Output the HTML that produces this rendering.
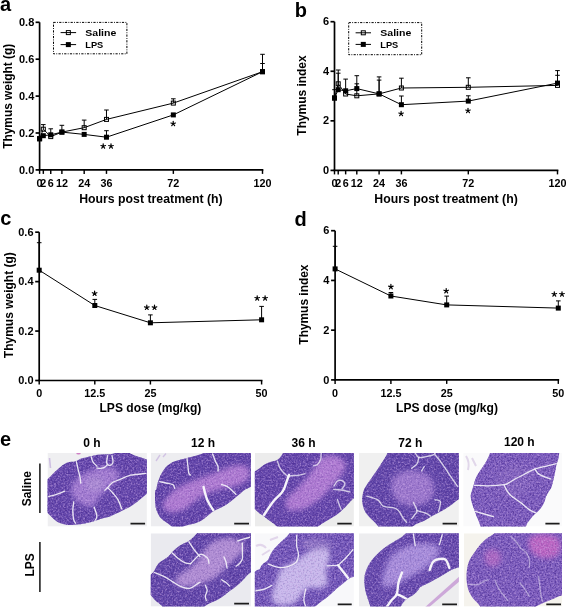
<!DOCTYPE html>
<html><head><meta charset="utf-8"><style>
html,body{margin:0;padding:0;background:#fff;}
svg{display:block;filter:blur(0.3px);}
</style></head><body>
<svg width="567" height="609" viewBox="0 0 567 609" font-family="Liberation Sans, sans-serif" font-weight="bold">
<rect width="567" height="609" fill="#fff"/>
<text x="0.00" y="11.40" font-size="20" text-anchor="start" >a</text>
<text x="294.80" y="16.60" font-size="20" text-anchor="start" >b</text>
<text x="0.20" y="225.40" font-size="20" text-anchor="start" >c</text>
<text x="294.60" y="226.00" font-size="20" text-anchor="start" >d</text>
<text x="0.00" y="445.50" font-size="20" text-anchor="start" >e</text>
<line x1="39.60" y1="22.30" x2="39.60" y2="169.90" stroke="#000" stroke-width="1.7"/>
<line x1="35.60" y1="169.90" x2="39.60" y2="169.90" stroke="#000" stroke-width="1.7"/>
<text transform="translate(34.30,173.50) scale(1.1,1)" font-size="10" text-anchor="end" >0.0</text>
<line x1="35.60" y1="133.00" x2="39.60" y2="133.00" stroke="#000" stroke-width="1.7"/>
<text transform="translate(34.30,136.60) scale(1.1,1)" font-size="10" text-anchor="end" >0.2</text>
<line x1="35.60" y1="96.10" x2="39.60" y2="96.10" stroke="#000" stroke-width="1.7"/>
<text transform="translate(34.30,99.70) scale(1.1,1)" font-size="10" text-anchor="end" >0.4</text>
<line x1="35.60" y1="59.20" x2="39.60" y2="59.20" stroke="#000" stroke-width="1.7"/>
<text transform="translate(34.30,62.80) scale(1.1,1)" font-size="10" text-anchor="end" >0.6</text>
<line x1="35.60" y1="22.30" x2="39.60" y2="22.30" stroke="#000" stroke-width="1.7"/>
<text transform="translate(34.30,25.90) scale(1.1,1)" font-size="10" text-anchor="end" >0.8</text>
<line x1="38.75" y1="169.90" x2="263.35" y2="169.90" stroke="#000" stroke-width="1.7"/>
<line x1="39.60" y1="169.90" x2="39.60" y2="173.90" stroke="#000" stroke-width="1.4449999999999998"/>
<text transform="translate(39.60,186.60) scale(1.08,1)" font-size="10" text-anchor="middle" >0</text>
<line x1="43.32" y1="169.90" x2="43.32" y2="173.90" stroke="#000" stroke-width="1.4449999999999998"/>
<text transform="translate(43.32,186.60) scale(1.08,1)" font-size="10" text-anchor="middle" >2</text>
<line x1="50.75" y1="169.90" x2="50.75" y2="173.90" stroke="#000" stroke-width="1.4449999999999998"/>
<text transform="translate(50.75,186.60) scale(1.08,1)" font-size="10" text-anchor="middle" >6</text>
<line x1="61.89" y1="169.90" x2="61.89" y2="173.90" stroke="#000" stroke-width="1.4449999999999998"/>
<text transform="translate(61.89,186.60) scale(1.08,1)" font-size="10" text-anchor="middle" >12</text>
<line x1="84.18" y1="169.90" x2="84.18" y2="173.90" stroke="#000" stroke-width="1.4449999999999998"/>
<text transform="translate(84.18,186.60) scale(1.08,1)" font-size="10" text-anchor="middle" >24</text>
<line x1="106.47" y1="169.90" x2="106.47" y2="173.90" stroke="#000" stroke-width="1.4449999999999998"/>
<text transform="translate(106.47,186.60) scale(1.08,1)" font-size="10" text-anchor="middle" >36</text>
<line x1="173.34" y1="169.90" x2="173.34" y2="173.90" stroke="#000" stroke-width="1.4449999999999998"/>
<text transform="translate(173.34,186.60) scale(1.08,1)" font-size="10" text-anchor="middle" >72</text>
<line x1="262.50" y1="169.90" x2="262.50" y2="173.90" stroke="#000" stroke-width="1.4449999999999998"/>
<text transform="translate(262.50,186.60) scale(1.08,1)" font-size="10" text-anchor="middle" >120</text>
<text transform="translate(11.6,96.3) rotate(-90)" font-size="12.4" text-anchor="middle" textLength="105" lengthAdjust="spacingAndGlyphs">Thymus weight (g)</text>
<text x="150.90" y="202.60" font-size="12.4" text-anchor="middle" textLength="143.5" lengthAdjust="spacingAndGlyphs" >Hours post treatment (h)</text>
<rect x="53.5" y="22.4" width="73.4" height="31.4" fill="none" stroke="#000" stroke-width="1" stroke-dasharray="2.2,1.3,0.9,1.3"/>
<line x1="60.60" y1="32.60" x2="76.10" y2="32.60" stroke="#000" stroke-width="1"/>
<rect x="66.35" y="30.60" width="4.0" height="4.0" fill="none" stroke="#000" stroke-width="1"/>
<line x1="60.60" y1="44.60" x2="76.10" y2="44.60" stroke="#000" stroke-width="1"/>
<rect x="65.85" y="42.10" width="5.0" height="5.0" fill="#000"/>
<text x="85.30" y="35.70" font-size="9.5" text-anchor="start" textLength="31.0" lengthAdjust="spacingAndGlyphs" >Saline</text>
<text x="85.30" y="48.20" font-size="9.6" text-anchor="start" textLength="18.0" lengthAdjust="spacingAndGlyphs" >LPS</text>
<line x1="43.32" y1="129.20" x2="43.32" y2="124.60" stroke="#000" stroke-width="1.0"/>
<line x1="41.02" y1="124.60" x2="45.62" y2="124.60" stroke="#000" stroke-width="1.0"/>
<line x1="50.75" y1="136.60" x2="50.75" y2="128.80" stroke="#000" stroke-width="1.0"/>
<line x1="48.45" y1="128.80" x2="53.05" y2="128.80" stroke="#000" stroke-width="1.0"/>
<line x1="61.89" y1="132.10" x2="61.89" y2="125.30" stroke="#000" stroke-width="1.0"/>
<line x1="59.59" y1="125.30" x2="64.19" y2="125.30" stroke="#000" stroke-width="1.0"/>
<line x1="84.18" y1="127.70" x2="84.18" y2="120.10" stroke="#000" stroke-width="1.0"/>
<line x1="81.88" y1="120.10" x2="86.48" y2="120.10" stroke="#000" stroke-width="1.0"/>
<line x1="106.47" y1="119.40" x2="106.47" y2="110.00" stroke="#000" stroke-width="1.0"/>
<line x1="104.17" y1="110.00" x2="108.77" y2="110.00" stroke="#000" stroke-width="1.0"/>
<line x1="173.34" y1="103.10" x2="173.34" y2="98.80" stroke="#000" stroke-width="1.0"/>
<line x1="171.04" y1="98.80" x2="175.64" y2="98.80" stroke="#000" stroke-width="1.0"/>
<line x1="262.50" y1="71.70" x2="262.50" y2="54.30" stroke="#000" stroke-width="1.0"/>
<line x1="260.20" y1="54.30" x2="264.80" y2="54.30" stroke="#000" stroke-width="1.0"/>
<line x1="106.47" y1="137.20" x2="106.47" y2="130.70" stroke="#000" stroke-width="1.0"/>
<line x1="104.17" y1="130.70" x2="108.77" y2="130.70" stroke="#000" stroke-width="1.0"/>
<line x1="262.50" y1="71.70" x2="262.50" y2="63.50" stroke="#000" stroke-width="1.0"/>
<line x1="260.20" y1="63.50" x2="264.80" y2="63.50" stroke="#000" stroke-width="1.0"/>
<polyline points="39.60,138.60 43.32,129.20 50.75,136.60 61.89,132.10 84.18,127.70 106.47,119.40 173.34,103.10 262.50,71.70" fill="none" stroke="#000" stroke-width="1.0"/>
<polyline points="39.60,138.90 43.32,135.70 50.75,134.80 61.89,132.10 84.18,134.40 106.47,137.20 173.34,114.90 262.50,71.70" fill="none" stroke="#000" stroke-width="1.0"/>
<rect x="37.60" y="136.60" width="4.0" height="4.0" fill="none" stroke="#000" stroke-width="1"/>
<rect x="41.32" y="127.20" width="4.0" height="4.0" fill="none" stroke="#000" stroke-width="1"/>
<rect x="48.75" y="134.60" width="4.0" height="4.0" fill="none" stroke="#000" stroke-width="1"/>
<rect x="59.89" y="130.10" width="4.0" height="4.0" fill="none" stroke="#000" stroke-width="1"/>
<rect x="82.18" y="125.70" width="4.0" height="4.0" fill="none" stroke="#000" stroke-width="1"/>
<rect x="104.47" y="117.40" width="4.0" height="4.0" fill="none" stroke="#000" stroke-width="1"/>
<rect x="171.34" y="101.10" width="4.0" height="4.0" fill="none" stroke="#000" stroke-width="1"/>
<rect x="260.50" y="69.70" width="4.0" height="4.0" fill="none" stroke="#000" stroke-width="1"/>
<rect x="37.10" y="136.40" width="5.0" height="5.0" fill="#000"/>
<rect x="40.82" y="133.20" width="5.0" height="5.0" fill="#000"/>
<rect x="48.25" y="132.30" width="5.0" height="5.0" fill="#000"/>
<rect x="59.39" y="129.60" width="5.0" height="5.0" fill="#000"/>
<rect x="81.68" y="131.90" width="5.0" height="5.0" fill="#000"/>
<rect x="103.97" y="134.70" width="5.0" height="5.0" fill="#000"/>
<rect x="170.84" y="112.40" width="5.0" height="5.0" fill="#000"/>
<rect x="260.00" y="69.20" width="5.0" height="5.0" fill="#000"/>
<path d="M103.20,146.25 L103.20,143.85 M103.20,146.25 L105.48,145.51 M103.20,146.25 L104.61,148.19 M103.20,146.25 L101.79,148.19 M103.20,146.25 L100.92,145.51 " stroke="#000" stroke-width="1.2" stroke-linecap="round" fill="none"/>
<circle cx="103.20" cy="146.25" r="0.9" fill="#000"/>
<path d="M111.00,146.25 L111.00,143.85 M111.00,146.25 L113.28,145.51 M111.00,146.25 L112.41,148.19 M111.00,146.25 L109.59,148.19 M111.00,146.25 L108.72,145.51 " stroke="#000" stroke-width="1.2" stroke-linecap="round" fill="none"/>
<circle cx="111.00" cy="146.25" r="0.9" fill="#000"/>
<path d="M173.20,123.75 L173.20,121.35 M173.20,123.75 L175.48,123.01 M173.20,123.75 L174.61,125.69 M173.20,123.75 L171.79,125.69 M173.20,123.75 L170.92,123.01 " stroke="#000" stroke-width="1.2" stroke-linecap="round" fill="none"/>
<circle cx="173.20" cy="123.75" r="0.9" fill="#000"/>
<line x1="334.50" y1="21.70" x2="334.50" y2="170.40" stroke="#000" stroke-width="1.7"/>
<line x1="330.50" y1="170.40" x2="334.50" y2="170.40" stroke="#000" stroke-width="1.7"/>
<text transform="translate(329.00,174.00) scale(1.1,1)" font-size="10" text-anchor="end" >0</text>
<line x1="330.50" y1="120.83" x2="334.50" y2="120.83" stroke="#000" stroke-width="1.7"/>
<text transform="translate(329.00,124.43) scale(1.1,1)" font-size="10" text-anchor="end" >2</text>
<line x1="330.50" y1="71.27" x2="334.50" y2="71.27" stroke="#000" stroke-width="1.7"/>
<text transform="translate(329.00,74.87) scale(1.1,1)" font-size="10" text-anchor="end" >4</text>
<line x1="330.50" y1="21.70" x2="334.50" y2="21.70" stroke="#000" stroke-width="1.7"/>
<text transform="translate(329.00,25.30) scale(1.1,1)" font-size="10" text-anchor="end" >6</text>
<line x1="333.65" y1="170.40" x2="558.35" y2="170.40" stroke="#000" stroke-width="1.7"/>
<line x1="334.50" y1="170.40" x2="334.50" y2="174.40" stroke="#000" stroke-width="1.4449999999999998"/>
<text transform="translate(334.50,187.20) scale(1.08,1)" font-size="10" text-anchor="middle" >0</text>
<line x1="338.22" y1="170.40" x2="338.22" y2="174.40" stroke="#000" stroke-width="1.4449999999999998"/>
<text transform="translate(338.22,187.20) scale(1.08,1)" font-size="10" text-anchor="middle" >2</text>
<line x1="345.65" y1="170.40" x2="345.65" y2="174.40" stroke="#000" stroke-width="1.4449999999999998"/>
<text transform="translate(345.65,187.20) scale(1.08,1)" font-size="10" text-anchor="middle" >6</text>
<line x1="356.80" y1="170.40" x2="356.80" y2="174.40" stroke="#000" stroke-width="1.4449999999999998"/>
<text transform="translate(356.80,187.20) scale(1.08,1)" font-size="10" text-anchor="middle" >12</text>
<line x1="379.10" y1="170.40" x2="379.10" y2="174.40" stroke="#000" stroke-width="1.4449999999999998"/>
<text transform="translate(379.10,187.20) scale(1.08,1)" font-size="10" text-anchor="middle" >24</text>
<line x1="401.40" y1="170.40" x2="401.40" y2="174.40" stroke="#000" stroke-width="1.4449999999999998"/>
<text transform="translate(401.40,187.20) scale(1.08,1)" font-size="10" text-anchor="middle" >36</text>
<line x1="468.30" y1="170.40" x2="468.30" y2="174.40" stroke="#000" stroke-width="1.4449999999999998"/>
<text transform="translate(468.30,187.20) scale(1.08,1)" font-size="10" text-anchor="middle" >72</text>
<line x1="557.50" y1="170.40" x2="557.50" y2="174.40" stroke="#000" stroke-width="1.4449999999999998"/>
<text transform="translate(557.50,187.20) scale(1.08,1)" font-size="10" text-anchor="middle" >120</text>
<text transform="translate(306.4,95.5) rotate(-90)" font-size="12.4" text-anchor="middle" textLength="80.3" lengthAdjust="spacingAndGlyphs">Thymus index</text>
<text x="446.00" y="203.20" font-size="12.4" text-anchor="middle" textLength="143.5" lengthAdjust="spacingAndGlyphs" >Hours post treatment (h)</text>
<rect x="348.7" y="22.6" width="73.0" height="32.1" fill="none" stroke="#000" stroke-width="1" stroke-dasharray="2.2,1.3,0.9,1.3"/>
<line x1="355.60" y1="32.80" x2="371.00" y2="32.80" stroke="#000" stroke-width="1"/>
<rect x="361.30" y="30.80" width="4.0" height="4.0" fill="none" stroke="#000" stroke-width="1"/>
<line x1="355.60" y1="44.40" x2="371.00" y2="44.40" stroke="#000" stroke-width="1"/>
<rect x="360.80" y="41.90" width="5.0" height="5.0" fill="#000"/>
<text x="380.30" y="35.90" font-size="9.5" text-anchor="start" textLength="31.0" lengthAdjust="spacingAndGlyphs" >Saline</text>
<text x="380.30" y="48.00" font-size="9.6" text-anchor="start" textLength="18.0" lengthAdjust="spacingAndGlyphs" >LPS</text>
<line x1="334.50" y1="98.00" x2="334.50" y2="89.70" stroke="#000" stroke-width="1.0"/>
<line x1="332.20" y1="89.70" x2="336.80" y2="89.70" stroke="#000" stroke-width="1.0"/>
<line x1="338.22" y1="83.80" x2="338.22" y2="70.00" stroke="#000" stroke-width="1.0"/>
<line x1="335.92" y1="70.00" x2="340.52" y2="70.00" stroke="#000" stroke-width="1.0"/>
<line x1="345.65" y1="94.00" x2="345.65" y2="79.10" stroke="#000" stroke-width="1.0"/>
<line x1="343.35" y1="79.10" x2="347.95" y2="79.10" stroke="#000" stroke-width="1.0"/>
<line x1="356.80" y1="95.80" x2="356.80" y2="83.80" stroke="#000" stroke-width="1.0"/>
<line x1="354.50" y1="83.80" x2="359.10" y2="83.80" stroke="#000" stroke-width="1.0"/>
<line x1="379.10" y1="93.90" x2="379.10" y2="80.10" stroke="#000" stroke-width="1.0"/>
<line x1="376.80" y1="80.10" x2="381.40" y2="80.10" stroke="#000" stroke-width="1.0"/>
<line x1="401.40" y1="88.00" x2="401.40" y2="78.20" stroke="#000" stroke-width="1.0"/>
<line x1="399.10" y1="78.20" x2="403.70" y2="78.20" stroke="#000" stroke-width="1.0"/>
<line x1="468.30" y1="87.30" x2="468.30" y2="77.80" stroke="#000" stroke-width="1.0"/>
<line x1="466.00" y1="77.80" x2="470.60" y2="77.80" stroke="#000" stroke-width="1.0"/>
<line x1="557.50" y1="85.40" x2="557.50" y2="70.60" stroke="#000" stroke-width="1.0"/>
<line x1="555.20" y1="70.60" x2="559.80" y2="70.60" stroke="#000" stroke-width="1.0"/>
<line x1="338.22" y1="89.70" x2="338.22" y2="73.20" stroke="#000" stroke-width="1.0"/>
<line x1="335.92" y1="73.20" x2="340.52" y2="73.20" stroke="#000" stroke-width="1.0"/>
<line x1="356.80" y1="88.60" x2="356.80" y2="75.70" stroke="#000" stroke-width="1.0"/>
<line x1="354.50" y1="75.70" x2="359.10" y2="75.70" stroke="#000" stroke-width="1.0"/>
<line x1="379.10" y1="93.90" x2="379.10" y2="76.90" stroke="#000" stroke-width="1.0"/>
<line x1="376.80" y1="76.90" x2="381.40" y2="76.90" stroke="#000" stroke-width="1.0"/>
<line x1="401.40" y1="104.70" x2="401.40" y2="96.00" stroke="#000" stroke-width="1.0"/>
<line x1="399.10" y1="96.00" x2="403.70" y2="96.00" stroke="#000" stroke-width="1.0"/>
<line x1="468.30" y1="101.10" x2="468.30" y2="95.80" stroke="#000" stroke-width="1.0"/>
<line x1="466.00" y1="95.80" x2="470.60" y2="95.80" stroke="#000" stroke-width="1.0"/>
<line x1="557.50" y1="83.10" x2="557.50" y2="75.30" stroke="#000" stroke-width="1.0"/>
<line x1="555.20" y1="75.30" x2="559.80" y2="75.30" stroke="#000" stroke-width="1.0"/>
<polyline points="334.50,98.00 338.22,83.80 345.65,94.00 356.80,95.80 379.10,93.90 401.40,88.00 468.30,87.30 557.50,85.40" fill="none" stroke="#000" stroke-width="1.0"/>
<polyline points="334.50,98.00 338.22,89.70 345.65,90.80 356.80,88.60 379.10,93.90 401.40,104.70 468.30,101.10 557.50,83.10" fill="none" stroke="#000" stroke-width="1.0"/>
<rect x="332.50" y="96.00" width="4.0" height="4.0" fill="none" stroke="#000" stroke-width="1"/>
<rect x="336.22" y="81.80" width="4.0" height="4.0" fill="none" stroke="#000" stroke-width="1"/>
<rect x="343.65" y="92.00" width="4.0" height="4.0" fill="none" stroke="#000" stroke-width="1"/>
<rect x="354.80" y="93.80" width="4.0" height="4.0" fill="none" stroke="#000" stroke-width="1"/>
<rect x="377.10" y="91.90" width="4.0" height="4.0" fill="none" stroke="#000" stroke-width="1"/>
<rect x="399.40" y="86.00" width="4.0" height="4.0" fill="none" stroke="#000" stroke-width="1"/>
<rect x="466.30" y="85.30" width="4.0" height="4.0" fill="none" stroke="#000" stroke-width="1"/>
<rect x="555.50" y="83.40" width="4.0" height="4.0" fill="none" stroke="#000" stroke-width="1"/>
<rect x="332.00" y="95.50" width="5.0" height="5.0" fill="#000"/>
<rect x="335.72" y="87.20" width="5.0" height="5.0" fill="#000"/>
<rect x="343.15" y="88.30" width="5.0" height="5.0" fill="#000"/>
<rect x="354.30" y="86.10" width="5.0" height="5.0" fill="#000"/>
<rect x="376.60" y="91.40" width="5.0" height="5.0" fill="#000"/>
<rect x="398.90" y="102.20" width="5.0" height="5.0" fill="#000"/>
<rect x="465.80" y="98.60" width="5.0" height="5.0" fill="#000"/>
<rect x="555.00" y="80.60" width="5.0" height="5.0" fill="#000"/>
<path d="M401.10,113.75 L401.10,111.35 M401.10,113.75 L403.38,113.01 M401.10,113.75 L402.51,115.69 M401.10,113.75 L399.69,115.69 M401.10,113.75 L398.82,113.01 " stroke="#000" stroke-width="1.2" stroke-linecap="round" fill="none"/>
<circle cx="401.10" cy="113.75" r="0.9" fill="#000"/>
<path d="M468.00,110.75 L468.00,108.35 M468.00,110.75 L470.28,110.01 M468.00,110.75 L469.41,112.69 M468.00,110.75 L466.59,112.69 M468.00,110.75 L465.72,110.01 " stroke="#000" stroke-width="1.2" stroke-linecap="round" fill="none"/>
<circle cx="468.00" cy="110.75" r="0.9" fill="#000"/>
<line x1="39.20" y1="232.18" x2="39.20" y2="380.50" stroke="#000" stroke-width="1.7"/>
<line x1="35.20" y1="380.50" x2="39.20" y2="380.50" stroke="#000" stroke-width="1.7"/>
<text transform="translate(33.50,384.10) scale(1.1,1)" font-size="10" text-anchor="end" >0.0</text>
<line x1="35.20" y1="331.06" x2="39.20" y2="331.06" stroke="#000" stroke-width="1.7"/>
<text transform="translate(33.50,334.66) scale(1.1,1)" font-size="10" text-anchor="end" >0.2</text>
<line x1="35.20" y1="281.62" x2="39.20" y2="281.62" stroke="#000" stroke-width="1.7"/>
<text transform="translate(33.50,285.22) scale(1.1,1)" font-size="10" text-anchor="end" >0.4</text>
<line x1="35.20" y1="232.18" x2="39.20" y2="232.18" stroke="#000" stroke-width="1.7"/>
<text transform="translate(33.50,235.78) scale(1.1,1)" font-size="10" text-anchor="end" >0.6</text>
<line x1="38.35" y1="380.50" x2="262.45" y2="380.50" stroke="#000" stroke-width="1.7"/>
<line x1="39.20" y1="380.50" x2="39.20" y2="384.50" stroke="#000" stroke-width="1.4449999999999998"/>
<text transform="translate(39.20,397.00) scale(1.08,1)" font-size="10" text-anchor="middle" >0</text>
<line x1="94.80" y1="380.50" x2="94.80" y2="384.50" stroke="#000" stroke-width="1.4449999999999998"/>
<text transform="translate(94.80,397.00) scale(1.08,1)" font-size="10" text-anchor="middle" >12.5</text>
<line x1="150.40" y1="380.50" x2="150.40" y2="384.50" stroke="#000" stroke-width="1.4449999999999998"/>
<text transform="translate(150.40,397.00) scale(1.08,1)" font-size="10" text-anchor="middle" >25</text>
<line x1="261.60" y1="380.50" x2="261.60" y2="384.50" stroke="#000" stroke-width="1.4449999999999998"/>
<text transform="translate(261.60,397.00) scale(1.08,1)" font-size="10" text-anchor="middle" >50</text>
<text transform="translate(13.0,305.2) rotate(-90)" font-size="12.4" text-anchor="middle" textLength="105.9" lengthAdjust="spacingAndGlyphs">Thymus weight (g)</text>
<text x="150.40" y="412.40" font-size="12.4" text-anchor="middle" textLength="101.8" lengthAdjust="spacingAndGlyphs" >LPS dose (mg/kg)</text>
<line x1="39.20" y1="270.20" x2="39.20" y2="242.70" stroke="#000" stroke-width="1.0"/>
<line x1="36.90" y1="242.70" x2="41.50" y2="242.70" stroke="#000" stroke-width="1.0"/>
<line x1="94.80" y1="305.50" x2="94.80" y2="299.40" stroke="#000" stroke-width="1.0"/>
<line x1="92.50" y1="299.40" x2="97.10" y2="299.40" stroke="#000" stroke-width="1.0"/>
<line x1="150.40" y1="322.80" x2="150.40" y2="314.90" stroke="#000" stroke-width="1.0"/>
<line x1="148.10" y1="314.90" x2="152.70" y2="314.90" stroke="#000" stroke-width="1.0"/>
<line x1="261.60" y1="319.80" x2="261.60" y2="306.40" stroke="#000" stroke-width="1.0"/>
<line x1="259.30" y1="306.40" x2="263.90" y2="306.40" stroke="#000" stroke-width="1.0"/>
<polyline points="39.20,270.20 94.80,305.50 150.40,322.80 261.60,319.80" fill="none" stroke="#000" stroke-width="1.0"/>
<rect x="36.70" y="267.70" width="5.0" height="5.0" fill="#000"/>
<rect x="92.30" y="303.00" width="5.0" height="5.0" fill="#000"/>
<rect x="147.90" y="320.30" width="5.0" height="5.0" fill="#000"/>
<rect x="259.10" y="317.30" width="5.0" height="5.0" fill="#000"/>
<path d="M94.60,293.45 L94.60,291.05 M94.60,293.45 L96.88,292.71 M94.60,293.45 L96.01,295.39 M94.60,293.45 L93.19,295.39 M94.60,293.45 L92.32,292.71 " stroke="#000" stroke-width="1.2" stroke-linecap="round" fill="none"/>
<circle cx="94.60" cy="293.45" r="0.9" fill="#000"/>
<path d="M146.80,307.55 L146.80,305.15 M146.80,307.55 L149.08,306.81 M146.80,307.55 L148.21,309.49 M146.80,307.55 L145.39,309.49 M146.80,307.55 L144.52,306.81 " stroke="#000" stroke-width="1.2" stroke-linecap="round" fill="none"/>
<circle cx="146.80" cy="307.55" r="0.9" fill="#000"/>
<path d="M154.50,307.55 L154.50,305.15 M154.50,307.55 L156.78,306.81 M154.50,307.55 L155.91,309.49 M154.50,307.55 L153.09,309.49 M154.50,307.55 L152.22,306.81 " stroke="#000" stroke-width="1.2" stroke-linecap="round" fill="none"/>
<circle cx="154.50" cy="307.55" r="0.9" fill="#000"/>
<path d="M257.20,298.25 L257.20,295.85 M257.20,298.25 L259.48,297.51 M257.20,298.25 L258.61,300.19 M257.20,298.25 L255.79,300.19 M257.20,298.25 L254.92,297.51 " stroke="#000" stroke-width="1.2" stroke-linecap="round" fill="none"/>
<circle cx="257.20" cy="298.25" r="0.9" fill="#000"/>
<path d="M265.10,298.25 L265.10,295.85 M265.10,298.25 L267.38,297.51 M265.10,298.25 L266.51,300.19 M265.10,298.25 L263.69,300.19 M265.10,298.25 L262.82,297.51 " stroke="#000" stroke-width="1.2" stroke-linecap="round" fill="none"/>
<circle cx="265.10" cy="298.25" r="0.9" fill="#000"/>
<line x1="335.10" y1="230.70" x2="335.10" y2="379.90" stroke="#000" stroke-width="1.7"/>
<line x1="331.10" y1="379.90" x2="335.10" y2="379.90" stroke="#000" stroke-width="1.7"/>
<text transform="translate(329.30,383.50) scale(1.1,1)" font-size="10" text-anchor="end" >0</text>
<line x1="331.10" y1="330.17" x2="335.10" y2="330.17" stroke="#000" stroke-width="1.7"/>
<text transform="translate(329.30,333.77) scale(1.1,1)" font-size="10" text-anchor="end" >2</text>
<line x1="331.10" y1="280.43" x2="335.10" y2="280.43" stroke="#000" stroke-width="1.7"/>
<text transform="translate(329.30,284.03) scale(1.1,1)" font-size="10" text-anchor="end" >4</text>
<line x1="331.10" y1="230.70" x2="335.10" y2="230.70" stroke="#000" stroke-width="1.7"/>
<text transform="translate(329.30,234.30) scale(1.1,1)" font-size="10" text-anchor="end" >6</text>
<line x1="334.25" y1="379.90" x2="559.15" y2="379.90" stroke="#000" stroke-width="1.7"/>
<line x1="335.10" y1="379.90" x2="335.10" y2="383.90" stroke="#000" stroke-width="1.4449999999999998"/>
<text transform="translate(335.10,396.50) scale(1.08,1)" font-size="10" text-anchor="middle" >0</text>
<line x1="390.90" y1="379.90" x2="390.90" y2="383.90" stroke="#000" stroke-width="1.4449999999999998"/>
<text transform="translate(390.90,396.50) scale(1.08,1)" font-size="10" text-anchor="middle" >12.5</text>
<line x1="446.70" y1="379.90" x2="446.70" y2="383.90" stroke="#000" stroke-width="1.4449999999999998"/>
<text transform="translate(446.70,396.50) scale(1.08,1)" font-size="10" text-anchor="middle" >25</text>
<line x1="558.30" y1="379.90" x2="558.30" y2="383.90" stroke="#000" stroke-width="1.4449999999999998"/>
<text transform="translate(558.30,396.50) scale(1.08,1)" font-size="10" text-anchor="middle" >50</text>
<text transform="translate(308.4,304.6) rotate(-90)" font-size="12.4" text-anchor="middle" textLength="80.1" lengthAdjust="spacingAndGlyphs">Thymus index</text>
<text x="447.00" y="411.60" font-size="12.4" text-anchor="middle" textLength="101.9" lengthAdjust="spacingAndGlyphs" >LPS dose (mg/kg)</text>
<line x1="335.10" y1="268.90" x2="335.10" y2="246.30" stroke="#000" stroke-width="1.0"/>
<line x1="332.80" y1="246.30" x2="337.40" y2="246.30" stroke="#000" stroke-width="1.0"/>
<line x1="390.90" y1="296.00" x2="390.90" y2="292.50" stroke="#000" stroke-width="1.0"/>
<line x1="388.60" y1="292.50" x2="393.20" y2="292.50" stroke="#000" stroke-width="1.0"/>
<line x1="446.70" y1="304.90" x2="446.70" y2="296.10" stroke="#000" stroke-width="1.0"/>
<line x1="444.40" y1="296.10" x2="449.00" y2="296.10" stroke="#000" stroke-width="1.0"/>
<line x1="558.30" y1="308.10" x2="558.30" y2="300.90" stroke="#000" stroke-width="1.0"/>
<line x1="556.00" y1="300.90" x2="560.60" y2="300.90" stroke="#000" stroke-width="1.0"/>
<polyline points="335.10,268.90 390.90,296.00 446.70,304.90 558.30,308.10" fill="none" stroke="#000" stroke-width="1.0"/>
<rect x="332.60" y="266.40" width="5.0" height="5.0" fill="#000"/>
<rect x="388.40" y="293.50" width="5.0" height="5.0" fill="#000"/>
<rect x="444.20" y="302.40" width="5.0" height="5.0" fill="#000"/>
<rect x="555.80" y="305.60" width="5.0" height="5.0" fill="#000"/>
<path d="M390.90,286.85 L390.90,284.45 M390.90,286.85 L393.18,286.11 M390.90,286.85 L392.31,288.79 M390.90,286.85 L389.49,288.79 M390.90,286.85 L388.62,286.11 " stroke="#000" stroke-width="1.2" stroke-linecap="round" fill="none"/>
<circle cx="390.90" cy="286.85" r="0.9" fill="#000"/>
<path d="M446.20,290.95 L446.20,288.55 M446.20,290.95 L448.48,290.21 M446.20,290.95 L447.61,292.89 M446.20,290.95 L444.79,292.89 M446.20,290.95 L443.92,290.21 " stroke="#000" stroke-width="1.2" stroke-linecap="round" fill="none"/>
<circle cx="446.20" cy="290.95" r="0.9" fill="#000"/>
<path d="M554.30,294.25 L554.30,291.85 M554.30,294.25 L556.58,293.51 M554.30,294.25 L555.71,296.19 M554.30,294.25 L552.89,296.19 M554.30,294.25 L552.02,293.51 " stroke="#000" stroke-width="1.2" stroke-linecap="round" fill="none"/>
<circle cx="554.30" cy="294.25" r="0.9" fill="#000"/>
<path d="M562.00,294.25 L562.00,291.85 M562.00,294.25 L564.28,293.51 M562.00,294.25 L563.41,296.19 M562.00,294.25 L560.59,296.19 M562.00,294.25 L559.72,293.51 " stroke="#000" stroke-width="1.2" stroke-linecap="round" fill="none"/>
<circle cx="562.00" cy="294.25" r="0.9" fill="#000"/>
<text x="92.00" y="446.60" font-size="12" text-anchor="middle" >0 h</text>
<text x="203.00" y="446.60" font-size="12" text-anchor="middle" >12 h</text>
<text x="303.50" y="446.60" font-size="12" text-anchor="middle" >36 h</text>
<text x="410.30" y="446.60" font-size="12" text-anchor="middle" >72 h</text>
<text x="519.30" y="445.70" font-size="12" text-anchor="middle" >120 h</text>
<text transform="translate(30.6,488.7) rotate(-90)" font-size="12" text-anchor="middle">Saline</text>
<text transform="translate(33.6,564.8) rotate(-90)" font-size="12" text-anchor="middle">LPS</text>
<line x1="39.90" y1="463.60" x2="39.90" y2="513.10" stroke="#222" stroke-width="1.6"/>
<line x1="39.90" y1="542.00" x2="39.90" y2="591.90" stroke="#222" stroke-width="1.6"/>
<defs><filter id="bl1" x="-50%" y="-50%" width="200%" height="200%"><feGaussianBlur stdDeviation="2.8"/></filter><filter id="bl0" x="-20%" y="-20%" width="140%" height="140%"><feGaussianBlur stdDeviation="0.4"/></filter><filter id="spk" x="0" y="0" width="100%" height="100%" color-interpolation-filters="sRGB"><feTurbulence type="fractalNoise" baseFrequency="0.6" numOctaves="2" seed="7"/><feColorMatrix type="matrix" values="0 0 0 0 0.28  0 0 0 0 0.16  0 0 0 0 0.56  0 0 0 -3.2 1.75"/></filter><filter id="spl" x="0" y="0" width="100%" height="100%" color-interpolation-filters="sRGB"><feTurbulence type="fractalNoise" baseFrequency="0.55" numOctaves="2" seed="19"/><feColorMatrix type="matrix" values="0 0 0 0 0.84  0 0 0 0 0.70  0 0 0 0 0.93  0 0 0 -3.2 1.7"/></filter></defs>
<clipPath id="tc0"><rect x="47.5" y="453.0" width="99.4" height="73.6"/></clipPath>
<clipPath id="tp0"><path d="M43.50,500.15 Q43.50,491.00 43.50,491.00 Q43.50,491.00 43.50,486.55 Q43.50,482.10 43.50,482.10 Q43.50,482.10 47.00,479.45 Q50.50,476.80 52.25,474.60 Q54.00,472.40 56.65,470.20 Q59.30,468.00 61.95,465.80 Q64.60,463.60 66.80,462.70 Q69.00,461.80 71.25,461.80 Q73.50,461.80 74.80,461.60 Q76.10,461.40 78.30,460.05 Q80.50,458.70 83.15,458.05 Q85.80,457.40 88.45,456.75 Q91.10,456.10 94.05,455.45 Q97.00,454.80 101.40,454.55 Q105.80,454.30 108.90,454.30 Q112.00,454.30 117.75,451.65 Q123.50,449.00 123.50,449.00 Q123.50,449.00 127.90,451.90 Q132.30,454.80 135.35,455.65 Q138.40,456.50 141.05,457.60 Q143.70,458.70 147.30,459.80 Q150.90,460.90 150.90,460.90 Q150.90,460.90 150.90,461.95 Q150.90,463.00 150.90,463.00 Q150.90,463.00 150.90,475.00 Q150.90,487.00 150.90,487.00 Q150.90,487.00 150.90,488.50 Q150.90,490.00 150.90,490.00 Q150.90,490.00 146.45,493.90 Q142.00,497.80 139.35,500.00 Q136.70,502.20 133.60,504.40 Q130.50,506.60 126.55,508.60 Q122.60,510.60 118.60,512.60 Q114.60,514.60 111.10,515.90 Q107.60,517.20 104.05,518.10 Q100.50,519.00 98.75,519.65 Q97.00,520.30 95.35,520.80 Q93.70,521.30 91.95,521.75 Q90.20,522.20 88.00,522.70 Q85.80,523.20 83.15,523.75 Q80.50,524.30 77.40,524.50 Q74.30,524.70 71.65,524.95 Q69.00,525.20 65.05,524.50 Q61.10,523.80 58.00,522.25 Q54.90,520.70 52.70,518.10 Q50.50,515.50 47.00,512.40 Q43.50,509.30 43.50,509.30 Q43.50,509.30 43.50,500.15Z"/></clipPath>
<g clip-path="url(#tc0)">
<rect x="47.5" y="453.0" width="99.4" height="73.6" fill="#efeff1"/>
<ellipse cx="78.5" cy="453.6" rx="2.2" ry="1" fill="#c050b0" opacity="0.7"/>
<path d="M49.5,458 L50.5,468" stroke="#b8a0d8" stroke-width="1.6" opacity="0.6"/>
<path d="M43.50,500.15 Q43.50,491.00 43.50,491.00 Q43.50,491.00 43.50,486.55 Q43.50,482.10 43.50,482.10 Q43.50,482.10 47.00,479.45 Q50.50,476.80 52.25,474.60 Q54.00,472.40 56.65,470.20 Q59.30,468.00 61.95,465.80 Q64.60,463.60 66.80,462.70 Q69.00,461.80 71.25,461.80 Q73.50,461.80 74.80,461.60 Q76.10,461.40 78.30,460.05 Q80.50,458.70 83.15,458.05 Q85.80,457.40 88.45,456.75 Q91.10,456.10 94.05,455.45 Q97.00,454.80 101.40,454.55 Q105.80,454.30 108.90,454.30 Q112.00,454.30 117.75,451.65 Q123.50,449.00 123.50,449.00 Q123.50,449.00 127.90,451.90 Q132.30,454.80 135.35,455.65 Q138.40,456.50 141.05,457.60 Q143.70,458.70 147.30,459.80 Q150.90,460.90 150.90,460.90 Q150.90,460.90 150.90,461.95 Q150.90,463.00 150.90,463.00 Q150.90,463.00 150.90,475.00 Q150.90,487.00 150.90,487.00 Q150.90,487.00 150.90,488.50 Q150.90,490.00 150.90,490.00 Q150.90,490.00 146.45,493.90 Q142.00,497.80 139.35,500.00 Q136.70,502.20 133.60,504.40 Q130.50,506.60 126.55,508.60 Q122.60,510.60 118.60,512.60 Q114.60,514.60 111.10,515.90 Q107.60,517.20 104.05,518.10 Q100.50,519.00 98.75,519.65 Q97.00,520.30 95.35,520.80 Q93.70,521.30 91.95,521.75 Q90.20,522.20 88.00,522.70 Q85.80,523.20 83.15,523.75 Q80.50,524.30 77.40,524.50 Q74.30,524.70 71.65,524.95 Q69.00,525.20 65.05,524.50 Q61.10,523.80 58.00,522.25 Q54.90,520.70 52.70,518.10 Q50.50,515.50 47.00,512.40 Q43.50,509.30 43.50,509.30 Q43.50,509.30 43.50,500.15Z" fill="#664aad" filter="url(#bl0)"/>
<g clip-path="url(#tp0)">
<rect x="47.5" y="453.0" width="99.4" height="73.6" filter="url(#spk)" opacity="0.55"/>
<g filter="url(#bl1)">
<path d="M71.00,491.25 Q70.00,486.00 74.00,481.50 Q78.00,477.00 83.50,473.75 Q89.00,470.50 95.50,468.75 Q102.00,467.00 107.50,467.25 Q113.00,467.50 116.50,469.75 Q120.00,472.00 119.00,476.00 Q118.00,480.00 114.00,483.25 Q110.00,486.50 107.00,488.75 Q104.00,491.00 101.50,494.25 Q99.00,497.50 97.00,501.45 Q95.00,505.40 91.50,506.30 Q88.00,507.20 83.55,505.40 Q79.10,503.60 75.55,500.05 Q72.00,496.50 71.00,491.25Z" fill="#b58ddd" opacity="0.75"/>
<ellipse cx="95" cy="484" rx="9" ry="7" transform="rotate(0 95 484)" fill="#b8a0d8" opacity="0.45"/>
</g>
<rect x="47.5" y="453.0" width="99.4" height="73.6" filter="url(#spk)" opacity="0.22"/>
<rect x="47.5" y="453.0" width="99.4" height="73.6" filter="url(#spl)" opacity="0.45"/>
<path d="M76.40,461.80 C76.70,463.13 77.60,467.27 78.20,469.80 C78.80,472.33 79.57,474.77 80.00,477.00 C80.43,479.23 80.67,482.17 80.80,483.20" fill="none" stroke="#f3f0f8" stroke-width="1.35" stroke-linecap="round" opacity="0.92"/>
<path d="M107.60,455.60 C107.45,456.78 106.42,461.07 106.70,462.70 C106.98,464.33 108.27,465.40 109.30,465.40 C110.33,465.40 112.45,464.33 112.90,462.70 C113.35,461.07 112.15,456.78 112.00,455.60" fill="none" stroke="#f3f0f8" stroke-width="1.35" stroke-linecap="round" opacity="0.92"/>
<path d="M97.00,468.00 C97.58,468.07 99.18,468.55 100.50,468.40 C101.82,468.25 103.87,467.62 104.90,467.10 C105.93,466.58 106.40,465.60 106.70,465.30" fill="none" stroke="#f3f0f8" stroke-width="1.35" stroke-linecap="round" opacity="0.92"/>
<path d="M145.90,473.40 C143.37,473.70 134.72,474.32 130.70,475.20 C126.68,476.08 124.77,477.52 121.80,478.70 C118.83,479.88 115.27,480.82 112.90,482.30 C110.53,483.78 108.93,486.27 107.60,487.60 C106.27,488.93 105.35,489.85 104.90,490.30" fill="none" stroke="#f3f0f8" stroke-width="1.35" stroke-linecap="round" opacity="0.92"/>
<path d="M107.60,487.60 C108.48,488.50 111.13,490.92 112.90,493.00 C114.67,495.08 116.72,497.43 118.20,500.10 C119.68,502.77 121.20,507.52 121.80,509.00" fill="none" stroke="#f3f0f8" stroke-width="1.35" stroke-linecap="round" opacity="0.92"/>
<path d="M48.80,496.50 C49.98,496.20 53.23,495.58 55.90,494.70 C58.57,493.82 63.32,491.78 64.80,491.20" fill="none" stroke="#f3f0f8" stroke-width="1.35" stroke-linecap="round" opacity="0.92"/>
<path d="M73.70,501.90 C73.55,503.38 72.80,507.83 72.80,510.80 C72.80,513.77 73.25,517.63 73.70,519.70 C74.15,521.77 75.20,522.62 75.50,523.20" fill="none" stroke="#f3f0f8" stroke-width="1.35" stroke-linecap="round" opacity="0.92"/>
<path d="M94.20,507.20 C94.65,508.68 96.75,513.87 96.90,516.10 C97.05,518.33 95.40,519.85 95.10,520.60" fill="none" stroke="#f3f0f8" stroke-width="1.35" stroke-linecap="round" opacity="0.92"/>
<path d="M91.10,456.50 C91.40,457.38 91.92,460.18 92.90,461.80 C93.88,463.42 96.32,465.47 97.00,466.20" fill="none" stroke="#f3f0f8" stroke-width="1.35" stroke-linecap="round" opacity="0.92"/>
</g>
<line x1="130.5" y1="523.6" x2="145.1" y2="523.6" stroke="#1c1c1c" stroke-width="1.7"/>
</g>
<clipPath id="tc1"><rect x="150.7" y="453.0" width="100.2" height="73.6"/></clipPath>
<clipPath id="tp1"><path d="M155.75,490.00 Q156.20,491.00 156.65,487.85 Q157.10,484.70 157.95,482.10 Q158.80,479.50 159.70,477.25 Q160.60,475.00 162.35,471.95 Q164.10,468.90 166.30,466.70 Q168.50,464.50 171.15,462.95 Q173.80,461.40 177.35,460.50 Q180.90,459.60 185.30,458.50 Q189.70,457.40 194.85,456.10 Q200.00,454.80 206.30,451.90 Q212.60,449.00 212.60,449.00 Q212.60,449.00 216.30,449.00 Q220.00,449.00 220.00,449.00 Q220.00,449.00 237.45,449.00 Q254.90,449.00 254.90,449.00 Q254.90,449.00 254.90,467.20 Q254.90,485.40 254.90,485.40 Q254.90,485.40 249.95,487.20 Q245.00,489.00 242.75,491.25 Q240.50,493.50 238.25,495.30 Q236.00,497.10 232.85,499.80 Q229.70,502.50 226.10,504.75 Q222.50,507.00 218.45,508.80 Q214.40,510.60 213.05,511.50 Q211.70,512.40 208.55,515.10 Q205.40,517.80 202.70,519.70 Q200.00,521.60 196.15,522.95 Q192.30,524.30 188.80,524.75 Q185.30,525.20 180.90,527.90 Q176.50,530.60 176.50,530.60 Q176.50,530.60 172.50,527.20 Q168.50,523.80 165.40,521.85 Q162.30,519.90 160.10,517.25 Q157.90,514.60 156.60,510.60 Q155.30,506.60 155.10,502.20 Q154.90,497.80 155.10,493.40 Q155.30,489.00 155.75,490.00Z"/></clipPath>
<g clip-path="url(#tc1)">
<rect x="150.7" y="453.0" width="100.2" height="73.6" fill="#ededf0"/>
<path d="M156,461 L160,455 M163,457 L166,453.5" stroke="#c0a8dc" stroke-width="1.4" opacity="0.6"/>
<path d="M155.75,490.00 Q156.20,491.00 156.65,487.85 Q157.10,484.70 157.95,482.10 Q158.80,479.50 159.70,477.25 Q160.60,475.00 162.35,471.95 Q164.10,468.90 166.30,466.70 Q168.50,464.50 171.15,462.95 Q173.80,461.40 177.35,460.50 Q180.90,459.60 185.30,458.50 Q189.70,457.40 194.85,456.10 Q200.00,454.80 206.30,451.90 Q212.60,449.00 212.60,449.00 Q212.60,449.00 216.30,449.00 Q220.00,449.00 220.00,449.00 Q220.00,449.00 237.45,449.00 Q254.90,449.00 254.90,449.00 Q254.90,449.00 254.90,467.20 Q254.90,485.40 254.90,485.40 Q254.90,485.40 249.95,487.20 Q245.00,489.00 242.75,491.25 Q240.50,493.50 238.25,495.30 Q236.00,497.10 232.85,499.80 Q229.70,502.50 226.10,504.75 Q222.50,507.00 218.45,508.80 Q214.40,510.60 213.05,511.50 Q211.70,512.40 208.55,515.10 Q205.40,517.80 202.70,519.70 Q200.00,521.60 196.15,522.95 Q192.30,524.30 188.80,524.75 Q185.30,525.20 180.90,527.90 Q176.50,530.60 176.50,530.60 Q176.50,530.60 172.50,527.20 Q168.50,523.80 165.40,521.85 Q162.30,519.90 160.10,517.25 Q157.90,514.60 156.60,510.60 Q155.30,506.60 155.10,502.20 Q154.90,497.80 155.10,493.40 Q155.30,489.00 155.75,490.00Z" fill="#6446ab" filter="url(#bl0)"/>
<g clip-path="url(#tp1)">
<rect x="150.7" y="453.0" width="100.2" height="73.6" filter="url(#spk)" opacity="0.55"/>
<g filter="url(#bl1)">
<path d="M164.25,509.00 Q160.70,505.40 164.25,500.95 Q167.80,496.50 172.25,492.05 Q176.70,487.60 182.95,484.95 Q189.20,482.30 196.30,479.60 Q203.40,476.90 210.55,474.25 Q217.70,471.60 223.95,468.90 Q230.20,466.20 236.40,465.35 Q242.60,464.50 246.15,466.25 Q249.70,468.00 249.70,473.35 Q249.70,478.70 244.40,482.25 Q239.10,485.80 232.85,486.70 Q226.60,487.60 220.35,489.40 Q214.10,491.20 208.75,492.95 Q203.40,494.70 198.95,498.30 Q194.50,501.90 190.05,505.45 Q185.60,509.00 181.15,510.80 Q176.70,512.60 172.25,512.60 Q167.80,512.60 164.25,509.00Z" fill="#c288dc" opacity="0.8"/>
</g>
<rect x="150.7" y="453.0" width="100.2" height="73.6" filter="url(#spk)" opacity="0.22"/>
<rect x="150.7" y="453.0" width="100.2" height="73.6" filter="url(#spl)" opacity="0.45"/>
<path d="M159.70,481.70 C160.73,481.92 163.70,482.50 165.90,483.00 C168.10,483.50 171.43,483.82 172.90,484.70 C174.37,485.58 174.40,487.70 174.70,488.30" fill="none" stroke="#f3f0f8" stroke-width="1.35" stroke-linecap="round" opacity="0.92"/>
<path d="M187.00,458.30 C187.15,459.62 187.60,463.70 187.90,466.20 C188.20,468.70 188.35,471.83 188.80,473.30 C189.25,474.77 190.30,474.72 190.60,475.00" fill="none" stroke="#f3f0f8" stroke-width="1.35" stroke-linecap="round" opacity="0.92"/>
<path d="M212.60,453.90 C213.05,455.10 214.40,459.00 215.30,461.10 C216.20,463.20 217.55,464.85 218.00,466.50 C218.45,468.15 218.00,470.25 218.00,471.00" fill="none" stroke="#f3f0f8" stroke-width="1.35" stroke-linecap="round" opacity="0.92"/>
<path d="M221.60,484.50 C222.50,484.80 225.35,485.40 227.00,486.30 C228.65,487.20 230.00,488.55 231.50,489.90 C233.00,491.25 235.25,493.65 236.00,494.40" fill="none" stroke="#f3f0f8" stroke-width="1.35" stroke-linecap="round" opacity="0.92"/>
<path d="M203.60,487.00 C203.88,488.17 204.68,491.83 205.30,494.00 C205.92,496.17 206.52,498.17 207.30,500.00 C208.08,501.83 208.97,503.23 210.00,505.00 C211.03,506.77 212.92,509.67 213.50,510.60" fill="none" stroke="#f6f4fa" stroke-width="2.4" stroke-linecap="round"/>
</g>
<line x1="234.2" y1="523.6" x2="249" y2="523.6" stroke="#1c1c1c" stroke-width="1.7"/>
</g>
<clipPath id="tc2"><rect x="254.8" y="453.0" width="99.1" height="73.6"/></clipPath>
<clipPath id="tp2"><path d="M250.80,490.35 Q250.80,473.70 250.80,473.70 Q250.80,473.70 254.65,471.45 Q258.50,469.20 261.20,466.95 Q263.90,464.70 267.05,463.35 Q270.20,462.00 272.90,461.30 Q275.60,460.60 276.95,459.95 Q278.30,459.30 279.65,457.95 Q281.00,456.60 283.25,452.80 Q285.50,449.00 285.50,449.00 Q285.50,449.00 287.75,449.00 Q290.00,449.00 290.00,449.00 Q290.00,449.00 323.95,449.00 Q357.90,449.00 357.90,449.00 Q357.90,449.00 357.90,472.15 Q357.90,495.30 357.90,495.30 Q357.90,495.30 354.80,497.55 Q351.70,499.80 349.90,502.05 Q348.10,504.30 345.40,507.00 Q342.70,509.70 339.55,512.40 Q336.40,515.10 332.80,517.35 Q329.20,519.60 325.60,521.40 Q322.00,523.20 317.50,526.90 Q313.00,530.60 313.00,530.60 Q313.00,530.60 308.50,530.60 Q304.00,530.60 304.00,530.60 Q304.00,530.60 297.00,530.60 Q290.00,530.60 290.00,530.60 Q290.00,530.60 285.50,530.60 Q281.00,530.60 281.00,530.60 Q281.00,530.60 277.40,526.90 Q273.80,523.20 270.65,521.40 Q267.50,519.60 265.70,517.80 Q263.90,516.00 262.10,515.10 Q260.30,514.20 258.50,512.40 Q256.70,510.60 253.75,508.80 Q250.80,507.00 250.80,507.00 Q250.80,507.00 250.80,490.35Z"/></clipPath>
<g clip-path="url(#tc2)">
<rect x="254.8" y="453.0" width="99.1" height="73.6" fill="#ececec"/>
<path d="M250.80,490.35 Q250.80,473.70 250.80,473.70 Q250.80,473.70 254.65,471.45 Q258.50,469.20 261.20,466.95 Q263.90,464.70 267.05,463.35 Q270.20,462.00 272.90,461.30 Q275.60,460.60 276.95,459.95 Q278.30,459.30 279.65,457.95 Q281.00,456.60 283.25,452.80 Q285.50,449.00 285.50,449.00 Q285.50,449.00 287.75,449.00 Q290.00,449.00 290.00,449.00 Q290.00,449.00 323.95,449.00 Q357.90,449.00 357.90,449.00 Q357.90,449.00 357.90,472.15 Q357.90,495.30 357.90,495.30 Q357.90,495.30 354.80,497.55 Q351.70,499.80 349.90,502.05 Q348.10,504.30 345.40,507.00 Q342.70,509.70 339.55,512.40 Q336.40,515.10 332.80,517.35 Q329.20,519.60 325.60,521.40 Q322.00,523.20 317.50,526.90 Q313.00,530.60 313.00,530.60 Q313.00,530.60 308.50,530.60 Q304.00,530.60 304.00,530.60 Q304.00,530.60 297.00,530.60 Q290.00,530.60 290.00,530.60 Q290.00,530.60 285.50,530.60 Q281.00,530.60 281.00,530.60 Q281.00,530.60 277.40,526.90 Q273.80,523.20 270.65,521.40 Q267.50,519.60 265.70,517.80 Q263.90,516.00 262.10,515.10 Q260.30,514.20 258.50,512.40 Q256.70,510.60 253.75,508.80 Q250.80,507.00 250.80,507.00 Q250.80,507.00 250.80,490.35Z" fill="#6648ad" filter="url(#bl0)"/>
<g clip-path="url(#tp2)">
<rect x="254.8" y="453.0" width="99.1" height="73.6" filter="url(#spk)" opacity="0.55"/>
<g filter="url(#bl1)">
<path d="M316.35,464.50 Q321.70,455.60 329.70,455.60 Q337.70,455.60 342.15,459.15 Q346.60,462.70 344.85,468.05 Q343.10,473.40 336.85,480.50 Q330.60,487.60 326.15,492.95 Q321.70,498.30 316.35,501.85 Q311.00,505.40 305.65,508.10 Q300.30,510.80 294.05,510.80 Q287.80,510.80 286.05,507.25 Q284.30,503.70 286.95,499.20 Q289.60,494.70 294.95,490.25 Q300.30,485.80 305.65,479.60 Q311.00,473.40 316.35,464.50Z" fill="#c288dc" opacity="0.8"/>
</g>
<rect x="254.8" y="453.0" width="99.1" height="73.6" filter="url(#spk)" opacity="0.22"/>
<rect x="254.8" y="453.0" width="99.1" height="73.6" filter="url(#spl)" opacity="0.45"/>
<path d="M277.40,461.10 C277.85,462.30 278.90,466.20 280.10,468.30 C281.30,470.40 283.25,472.35 284.60,473.70 C285.95,475.05 287.60,475.95 288.20,476.40" fill="none" stroke="#f3f0f8" stroke-width="1.35" stroke-linecap="round" opacity="0.75"/>
<path d="M288.20,476.40 C289.00,476.25 291.50,475.65 293.00,475.50 C294.50,475.35 295.20,475.80 297.20,475.50 C299.20,475.20 303.70,474.00 305.00,473.70" fill="none" stroke="#f3f0f8" stroke-width="1.35" stroke-linecap="round" opacity="0.75"/>
<path d="M321.20,453.20 C321.10,454.25 321.22,457.62 320.60,459.50 C319.98,461.38 318.65,463.47 317.50,464.50 C316.35,465.53 314.33,465.50 313.70,465.70" fill="none" stroke="#f3f0f8" stroke-width="1.35" stroke-linecap="round" opacity="0.75"/>
<path d="M333.70,489.40 C334.92,489.50 338.30,489.58 341.00,490.00 C343.70,490.42 348.42,491.58 349.90,491.90" fill="none" stroke="#f3f0f8" stroke-width="1.35" stroke-linecap="round" opacity="0.75"/>
<path d="M337.40,499.40 C337.67,500.17 338.38,502.33 339.00,504.00 C339.62,505.67 340.75,508.50 341.10,509.40" fill="none" stroke="#f3f0f8" stroke-width="1.35" stroke-linecap="round" opacity="0.75"/>
<path d="M334.00,486.00 C334.57,485.17 336.07,481.88 337.40,481.00 C338.73,480.12 340.75,480.20 342.00,480.70 C343.25,481.20 344.90,482.62 344.90,484.00 C344.90,485.38 342.48,488.17 342.00,489.00" fill="none" stroke="#f3f0f8" stroke-width="1.35" stroke-linecap="round" opacity="0.75"/>
<path d="M289.00,475.00 C288.58,476.17 287.33,479.67 286.50,482.00 C285.67,484.33 284.92,487.08 284.00,489.00 C283.08,490.92 282.55,491.70 281.00,493.50 C279.45,495.30 276.65,497.55 274.70,499.80 C272.75,502.05 271.10,504.45 269.30,507.00 C267.50,509.55 264.80,513.75 263.90,515.10" fill="none" stroke="#f6f4fa" stroke-width="2.4" stroke-linecap="round"/>
</g>
<line x1="337.3" y1="523.6" x2="351.7" y2="523.6" stroke="#1c1c1c" stroke-width="1.7"/>
</g>
<clipPath id="tc3"><rect x="358.9" y="453.0" width="100" height="73.6"/></clipPath>
<clipPath id="tp3"><path d="M426.20,449.00 Q389.50,449.00 389.50,449.00 Q389.50,449.00 387.70,452.80 Q385.90,456.60 384.10,459.30 Q382.30,462.00 380.05,465.60 Q377.80,469.20 375.55,472.35 Q373.30,475.50 371.05,478.65 Q368.80,481.80 367.00,484.50 Q365.20,487.20 364.30,489.10 Q363.40,491.00 362.70,494.50 Q362.00,498.00 362.25,501.60 Q362.50,505.20 363.85,508.80 Q365.20,512.40 367.45,515.10 Q369.70,517.80 372.85,520.50 Q376.00,523.20 378.70,526.90 Q381.40,530.60 381.40,530.60 Q381.40,530.60 385.70,530.60 Q390.00,530.60 390.00,530.60 Q390.00,530.60 395.00,530.60 Q400.00,530.60 400.00,530.60 Q400.00,530.60 404.00,530.60 Q408.00,530.60 408.00,530.60 Q408.00,530.60 411.60,527.35 Q415.20,524.10 419.25,522.75 Q423.30,521.40 426.90,519.15 Q430.50,516.90 434.10,515.10 Q437.70,513.30 441.75,511.05 Q445.80,508.80 448.95,506.55 Q452.10,504.30 454.35,502.50 Q456.60,500.70 459.75,498.85 Q462.90,497.00 462.90,497.00 Q462.90,497.00 462.90,473.00 Q462.90,449.00 462.90,449.00 Q462.90,449.00 426.20,449.00Z"/></clipPath>
<g clip-path="url(#tc3)">
<rect x="358.9" y="453.0" width="100" height="73.6" fill="#f0f0f0"/>
<path d="M426.20,449.00 Q389.50,449.00 389.50,449.00 Q389.50,449.00 387.70,452.80 Q385.90,456.60 384.10,459.30 Q382.30,462.00 380.05,465.60 Q377.80,469.20 375.55,472.35 Q373.30,475.50 371.05,478.65 Q368.80,481.80 367.00,484.50 Q365.20,487.20 364.30,489.10 Q363.40,491.00 362.70,494.50 Q362.00,498.00 362.25,501.60 Q362.50,505.20 363.85,508.80 Q365.20,512.40 367.45,515.10 Q369.70,517.80 372.85,520.50 Q376.00,523.20 378.70,526.90 Q381.40,530.60 381.40,530.60 Q381.40,530.60 385.70,530.60 Q390.00,530.60 390.00,530.60 Q390.00,530.60 395.00,530.60 Q400.00,530.60 400.00,530.60 Q400.00,530.60 404.00,530.60 Q408.00,530.60 408.00,530.60 Q408.00,530.60 411.60,527.35 Q415.20,524.10 419.25,522.75 Q423.30,521.40 426.90,519.15 Q430.50,516.90 434.10,515.10 Q437.70,513.30 441.75,511.05 Q445.80,508.80 448.95,506.55 Q452.10,504.30 454.35,502.50 Q456.60,500.70 459.75,498.85 Q462.90,497.00 462.90,497.00 Q462.90,497.00 462.90,473.00 Q462.90,449.00 462.90,449.00 Q462.90,449.00 426.20,449.00Z" fill="#6349ab" filter="url(#bl0)"/>
<g clip-path="url(#tp3)">
<rect x="358.9" y="453.0" width="100" height="73.6" filter="url(#spk)" opacity="0.55"/>
<g filter="url(#bl1)">
<path d="M391.85,481.40 Q393.60,475.20 400.75,472.50 Q407.90,469.80 415.00,470.70 Q422.10,471.60 427.45,475.15 Q432.80,478.70 433.70,484.95 Q434.60,491.20 431.95,496.55 Q429.30,501.90 423.05,503.65 Q416.80,505.40 410.55,505.40 Q404.30,505.40 399.85,502.75 Q395.40,500.10 392.75,493.85 Q390.10,487.60 391.85,481.40Z" fill="#b58ddd" opacity="0.7"/>
</g>
<rect x="358.9" y="453.0" width="100" height="73.6" filter="url(#spk)" opacity="0.22"/>
<rect x="358.9" y="453.0" width="100" height="73.6" filter="url(#spl)" opacity="0.45"/>
<path d="M415.20,453.00 C415.80,453.75 417.00,456.90 418.80,457.50 C420.60,458.10 423.60,457.05 426.00,456.60 C428.40,456.15 431.70,455.40 433.20,454.80 C434.70,454.20 434.70,453.30 435.00,453.00" fill="none" stroke="#f3f0f8" stroke-width="1.35" stroke-linecap="round" opacity="0.8"/>
<path d="M435.00,454.80 C435.75,455.70 437.70,457.80 439.50,460.20 C441.30,462.60 444.15,466.80 445.80,469.20 C447.45,471.60 447.45,471.75 449.40,474.60 C451.35,477.45 456.15,484.35 457.50,486.30" fill="none" stroke="#f3f0f8" stroke-width="1.35" stroke-linecap="round" opacity="0.8"/>
<path d="M418.80,457.50 C418.50,458.55 418.20,462.00 417.00,463.80 C415.80,465.60 412.50,467.55 411.60,468.30" fill="none" stroke="#f3f0f8" stroke-width="1.35" stroke-linecap="round" opacity="0.8"/>
<path d="M424.20,466.50 L421.50,471.00" fill="none" stroke="#f3f0f8" stroke-width="1.35" stroke-linecap="round" opacity="0.8"/>
<path d="M367.00,496.20 C368.80,496.80 375.10,498.15 377.80,499.80 C380.50,501.45 380.50,504.75 383.20,506.10 C385.90,507.45 391.45,507.15 394.00,507.90 C396.55,508.65 397.00,508.95 398.50,510.60 C400.00,512.25 401.65,515.85 403.00,517.80 C404.35,519.75 406.00,521.55 406.60,522.30" fill="none" stroke="#f3f0f8" stroke-width="1.35" stroke-linecap="round" opacity="0.8"/>
<path d="M413.40,502.50 C414.00,503.85 416.70,508.65 417.00,510.60 C417.30,512.55 416.10,512.85 415.20,514.20 C414.30,515.55 412.20,517.95 411.60,518.70" fill="none" stroke="#f3f0f8" stroke-width="1.35" stroke-linecap="round" opacity="0.8"/>
<path d="M435.00,499.80 C435.90,500.10 439.80,499.65 440.40,501.60 C441.00,503.55 438.90,509.85 438.60,511.50" fill="none" stroke="#f3f0f8" stroke-width="1.35" stroke-linecap="round" opacity="0.8"/>
<path d="M417.00,510.60 C418.50,511.05 423.75,512.40 426.00,513.30 C428.25,514.20 429.75,515.55 430.50,516.00" fill="none" stroke="#f3f0f8" stroke-width="1.35" stroke-linecap="round" opacity="0.8"/>
</g>
<line x1="442.6" y1="523.6" x2="457" y2="523.6" stroke="#1c1c1c" stroke-width="1.7"/>
</g>
<clipPath id="tc4"><rect x="463.2" y="453.0" width="98.8" height="73.6"/></clipPath>
<clipPath id="tp4"><path d="M525.60,449.00 Q491.60,449.00 491.60,449.00 Q491.60,449.00 489.80,453.70 Q488.00,458.40 486.20,461.55 Q484.40,464.70 482.15,467.85 Q479.90,471.00 478.10,473.70 Q476.30,476.40 475.40,479.10 Q474.50,481.80 474.05,483.60 Q473.60,485.40 472.70,488.20 Q471.80,491.00 471.10,493.60 Q470.40,496.20 471.10,499.80 Q471.80,503.40 473.60,507.90 Q475.40,512.40 475.85,514.20 Q476.30,516.00 477.65,518.70 Q479.00,521.40 480.35,526.00 Q481.70,530.60 481.70,530.60 Q481.70,530.60 503.25,530.60 Q524.80,530.60 524.80,530.60 Q524.80,530.60 525.70,527.25 Q526.60,523.90 528.45,521.60 Q530.30,519.30 531.65,517.45 Q533.00,515.60 535.30,513.75 Q537.60,511.90 539.90,509.15 Q542.20,506.40 543.60,503.65 Q545.00,500.90 545.45,498.60 Q545.90,496.30 546.80,494.95 Q547.70,493.60 549.05,491.30 Q550.40,489.00 550.90,488.45 Q551.40,487.90 552.30,484.20 Q553.20,480.50 554.10,476.85 Q555.00,473.20 555.50,470.00 Q556.00,466.80 556.45,464.95 Q556.90,463.10 557.80,460.80 Q558.70,458.50 559.15,453.75 Q559.60,449.00 559.60,449.00 Q559.60,449.00 525.60,449.00Z"/></clipPath>
<g clip-path="url(#tc4)">
<rect x="463.2" y="453.0" width="98.8" height="73.6" fill="#fafafb"/>
<path d="M466,456 Q470,462 468,470 M472,458 L476,466" stroke="#d0c0e0" stroke-width="2" fill="none" opacity="0.6"/>
<path d="M525.60,449.00 Q491.60,449.00 491.60,449.00 Q491.60,449.00 489.80,453.70 Q488.00,458.40 486.20,461.55 Q484.40,464.70 482.15,467.85 Q479.90,471.00 478.10,473.70 Q476.30,476.40 475.40,479.10 Q474.50,481.80 474.05,483.60 Q473.60,485.40 472.70,488.20 Q471.80,491.00 471.10,493.60 Q470.40,496.20 471.10,499.80 Q471.80,503.40 473.60,507.90 Q475.40,512.40 475.85,514.20 Q476.30,516.00 477.65,518.70 Q479.00,521.40 480.35,526.00 Q481.70,530.60 481.70,530.60 Q481.70,530.60 503.25,530.60 Q524.80,530.60 524.80,530.60 Q524.80,530.60 525.70,527.25 Q526.60,523.90 528.45,521.60 Q530.30,519.30 531.65,517.45 Q533.00,515.60 535.30,513.75 Q537.60,511.90 539.90,509.15 Q542.20,506.40 543.60,503.65 Q545.00,500.90 545.45,498.60 Q545.90,496.30 546.80,494.95 Q547.70,493.60 549.05,491.30 Q550.40,489.00 550.90,488.45 Q551.40,487.90 552.30,484.20 Q553.20,480.50 554.10,476.85 Q555.00,473.20 555.50,470.00 Q556.00,466.80 556.45,464.95 Q556.90,463.10 557.80,460.80 Q558.70,458.50 559.15,453.75 Q559.60,449.00 559.60,449.00 Q559.60,449.00 525.60,449.00Z" fill="#7e5ebf" filter="url(#bl0)"/>
<g clip-path="url(#tp4)">
<rect x="463.2" y="453.0" width="98.8" height="73.6" filter="url(#spk)" opacity="0.55"/>
<g filter="url(#bl1)">
<path d="M497.50,474.00 Q500.00,468.00 510.00,465.00 Q520.00,462.00 527.50,466.00 Q535.00,470.00 532.50,480.00 Q530.00,490.00 522.50,495.00 Q515.00,500.00 507.50,497.50 Q500.00,495.00 497.50,487.50 Q495.00,480.00 497.50,474.00Z" fill="#9a7cc8" opacity="0.25"/>
</g>
<rect x="463.2" y="453.0" width="98.8" height="73.6" filter="url(#spk)" opacity="0.22"/>
<rect x="463.2" y="453.0" width="98.8" height="73.6" filter="url(#spl)" opacity="0.45"/>
<path d="M474.50,485.30 C476.75,485.38 483.05,485.90 488.00,485.80 C492.95,485.70 500.75,485.18 504.20,484.70 C507.65,484.22 506.90,483.85 508.70,482.90 C510.50,481.95 512.45,480.40 515.00,479.00 C517.55,477.60 520.72,476.15 524.00,474.50 C527.28,472.85 531.12,470.45 534.70,469.10 C538.28,467.75 541.90,467.30 545.50,466.40 C549.10,465.50 554.50,464.15 556.30,463.70" fill="none" stroke="#f3f0f8" stroke-width="1.35" stroke-linecap="round" opacity="0.92"/>
<path d="M504.20,485.30 C504.65,486.20 505.70,488.90 506.90,490.70 C508.10,492.50 509.15,494.15 511.40,496.10 C513.65,498.05 517.42,500.15 520.40,502.40 C523.38,504.65 526.62,507.80 529.30,509.60 C531.98,511.40 535.30,512.60 536.50,513.20" fill="none" stroke="#f3f0f8" stroke-width="1.35" stroke-linecap="round" opacity="0.92"/>
<path d="M534.70,469.10 C535.30,469.85 536.50,472.25 538.30,473.60 C540.10,474.95 543.40,476.30 545.50,477.20 C547.60,478.10 550.00,478.70 550.90,479.00" fill="none" stroke="#f3f0f8" stroke-width="1.35" stroke-linecap="round" opacity="0.92"/>
<path d="M475.40,511.40 C476.90,511.83 481.40,513.12 484.40,514.00 C487.40,514.88 491.90,516.25 493.40,516.70" fill="none" stroke="#f3f0f8" stroke-width="1.35" stroke-linecap="round" opacity="0.92"/>
</g>
<line x1="545.4" y1="523.6" x2="559.6" y2="523.6" stroke="#1c1c1c" stroke-width="1.7"/>
</g>
<clipPath id="tc5"><rect x="150.7" y="533.3" width="100.2" height="73.3"/></clipPath>
<clipPath id="tp5"><path d="M227.45,529.30 Q200.00,529.30 200.00,529.30 Q200.00,529.30 197.95,531.95 Q195.90,534.60 194.10,536.40 Q192.30,538.20 190.10,539.95 Q187.90,541.70 184.80,543.00 Q181.70,544.30 179.10,546.10 Q176.50,547.90 174.25,550.10 Q172.00,552.30 169.80,554.95 Q167.60,557.60 164.95,558.90 Q162.30,560.20 160.10,561.95 Q157.90,563.70 156.60,566.35 Q155.30,569.00 153.95,571.20 Q152.60,573.40 149.65,575.60 Q146.70,577.80 146.70,577.80 Q146.70,577.80 146.70,584.40 Q146.70,591.00 146.70,591.00 Q146.70,591.00 149.65,594.10 Q152.60,597.20 153.95,598.95 Q155.30,600.70 157.95,602.50 Q160.60,604.30 163.25,607.45 Q165.90,610.60 165.90,610.60 Q165.90,610.60 182.95,610.60 Q200.00,610.60 200.00,610.60 Q200.00,610.60 203.60,607.35 Q207.20,604.10 210.80,602.75 Q214.40,601.40 218.45,599.15 Q222.50,596.90 225.65,594.20 Q228.80,591.50 231.50,589.70 Q234.20,587.90 236.90,585.65 Q239.60,583.40 242.30,580.70 Q245.00,578.00 246.80,575.75 Q248.60,573.50 251.75,571.75 Q254.90,570.00 254.90,570.00 Q254.90,570.00 254.90,549.65 Q254.90,529.30 254.90,529.30 Q254.90,529.30 227.45,529.30Z"/></clipPath>
<g clip-path="url(#tc5)">
<rect x="150.7" y="533.3" width="100.2" height="73.3" fill="#eaeaef"/>
<path d="M227.45,529.30 Q200.00,529.30 200.00,529.30 Q200.00,529.30 197.95,531.95 Q195.90,534.60 194.10,536.40 Q192.30,538.20 190.10,539.95 Q187.90,541.70 184.80,543.00 Q181.70,544.30 179.10,546.10 Q176.50,547.90 174.25,550.10 Q172.00,552.30 169.80,554.95 Q167.60,557.60 164.95,558.90 Q162.30,560.20 160.10,561.95 Q157.90,563.70 156.60,566.35 Q155.30,569.00 153.95,571.20 Q152.60,573.40 149.65,575.60 Q146.70,577.80 146.70,577.80 Q146.70,577.80 146.70,584.40 Q146.70,591.00 146.70,591.00 Q146.70,591.00 149.65,594.10 Q152.60,597.20 153.95,598.95 Q155.30,600.70 157.95,602.50 Q160.60,604.30 163.25,607.45 Q165.90,610.60 165.90,610.60 Q165.90,610.60 182.95,610.60 Q200.00,610.60 200.00,610.60 Q200.00,610.60 203.60,607.35 Q207.20,604.10 210.80,602.75 Q214.40,601.40 218.45,599.15 Q222.50,596.90 225.65,594.20 Q228.80,591.50 231.50,589.70 Q234.20,587.90 236.90,585.65 Q239.60,583.40 242.30,580.70 Q245.00,578.00 246.80,575.75 Q248.60,573.50 251.75,571.75 Q254.90,570.00 254.90,570.00 Q254.90,570.00 254.90,549.65 Q254.90,529.30 254.90,529.30 Q254.90,529.30 227.45,529.30Z" fill="#6448ab" filter="url(#bl0)"/>
<g clip-path="url(#tp5)">
<rect x="150.7" y="533.3" width="100.2" height="73.3" filter="url(#spk)" opacity="0.55"/>
<g filter="url(#bl1)">
<path d="M204.35,550.70 Q208.80,542.70 216.80,540.00 Q224.80,537.30 231.95,538.20 Q239.10,539.10 242.65,543.55 Q246.20,548.00 240.85,553.35 Q235.50,558.70 230.15,563.15 Q224.80,567.60 221.25,572.05 Q217.70,576.50 212.35,579.20 Q207.00,581.90 200.75,583.65 Q194.50,585.40 188.30,586.30 Q182.10,587.20 177.65,585.45 Q173.20,583.70 175.85,579.20 Q178.50,574.70 184.75,571.15 Q191.00,567.60 195.45,563.15 Q199.90,558.70 204.35,550.70Z" fill="#c4a0de" opacity="0.8"/>
</g>
<rect x="150.7" y="533.3" width="100.2" height="73.3" filter="url(#spk)" opacity="0.22"/>
<rect x="150.7" y="533.3" width="100.2" height="73.3" filter="url(#spl)" opacity="0.45"/>
<path d="M172.00,552.70 C173.03,553.67 175.98,556.80 178.20,558.50 C180.42,560.20 183.23,562.03 185.30,562.90 C187.37,563.77 189.72,563.57 190.60,563.70" fill="none" stroke="#f3f0f8" stroke-width="1.35" stroke-linecap="round" opacity="0.92"/>
<path d="M188.80,541.70 C189.68,543.02 192.23,547.10 194.10,549.60 C195.97,552.10 199.02,555.52 200.00,556.70" fill="none" stroke="#f3f0f8" stroke-width="1.35" stroke-linecap="round" opacity="0.92"/>
<path d="M154.40,572.50 C155.87,573.10 160.27,574.63 163.20,576.10 C166.13,577.57 169.05,579.55 172.00,581.30 C174.95,583.05 177.95,585.42 180.90,586.60 C183.85,587.78 187.20,588.68 189.70,588.40 C192.20,588.12 194.18,585.93 195.90,584.90 C197.62,583.87 199.32,582.65 200.00,582.20" fill="none" stroke="#f3f0f8" stroke-width="1.35" stroke-linecap="round" opacity="0.92"/>
<path d="M190.60,563.70 C192.17,562.17 197.53,555.73 200.00,554.50 C202.47,553.27 204.05,555.55 205.40,556.30 C206.75,557.05 207.50,557.80 208.10,559.00 C208.70,560.20 208.85,562.75 209.00,563.50" fill="none" stroke="#f3f0f8" stroke-width="1.35" stroke-linecap="round" opacity="0.92"/>
<path d="M237.80,541.00 C238.70,540.70 241.25,539.80 243.20,539.20 C245.15,538.60 248.45,537.70 249.50,537.40" fill="none" stroke="#f3f0f8" stroke-width="1.35" stroke-linecap="round" opacity="0.92"/>
<path d="M242.30,542.80 C242.30,544.17 242.30,548.30 242.30,551.00 C242.30,553.70 242.75,556.92 242.30,559.00 C241.85,561.08 240.65,562.30 239.60,563.50 C238.55,564.70 236.60,565.75 236.00,566.20" fill="none" stroke="#f3f0f8" stroke-width="1.35" stroke-linecap="round" opacity="0.92"/>
<path d="M205.40,585.20 C205.70,586.10 207.20,588.80 207.20,590.60 C207.20,592.40 205.55,594.35 205.40,596.00 C205.25,597.65 206.15,599.75 206.30,600.50" fill="none" stroke="#f3f0f8" stroke-width="1.35" stroke-linecap="round" opacity="0.92"/>
<path d="M221.60,579.80 C222.33,580.25 224.65,581.45 226.00,582.50 C227.35,583.55 229.08,585.50 229.70,586.10" fill="none" stroke="#f3f0f8" stroke-width="1.35" stroke-linecap="round" opacity="0.92"/>
<path d="M224.00,557.00 C224.33,557.83 225.50,560.17 226.00,562.00 C226.50,563.83 226.83,567.00 227.00,568.00" fill="none" stroke="#f3f0f8" stroke-width="1.35" stroke-linecap="round" opacity="0.92"/>
</g>
<line x1="234.2" y1="603.6" x2="249" y2="603.6" stroke="#1c1c1c" stroke-width="1.7"/>
</g>
<clipPath id="tc6"><rect x="254.8" y="533.3" width="99.1" height="73.3"/></clipPath>
<clipPath id="tp6"><path d="M258.95,569.50 Q259.40,570.00 260.30,567.65 Q261.20,565.30 263.00,563.95 Q264.80,562.60 266.60,561.25 Q268.40,559.90 269.30,557.20 Q270.20,554.50 272.00,551.80 Q273.80,549.10 276.05,546.85 Q278.30,544.60 280.55,542.35 Q282.80,540.10 285.05,538.30 Q287.30,536.50 289.55,532.90 Q291.80,529.30 291.80,529.30 Q291.80,529.30 294.50,529.30 Q297.20,529.30 297.20,529.30 Q297.20,529.30 327.55,529.30 Q357.90,529.30 357.90,529.30 Q357.90,529.30 357.90,552.75 Q357.90,576.20 357.90,576.20 Q357.90,576.20 354.35,576.65 Q350.80,577.10 349.00,578.45 Q347.20,579.80 345.40,581.60 Q343.60,583.40 340.90,585.20 Q338.20,587.00 335.95,589.25 Q333.70,591.50 330.10,594.65 Q326.50,597.80 322.00,600.95 Q317.50,604.10 314.35,607.35 Q311.20,610.60 311.20,610.60 Q311.20,610.60 281.00,610.60 Q250.80,610.60 250.80,610.60 Q250.80,610.60 250.80,594.30 Q250.80,578.00 250.80,578.00 Q250.80,578.00 250.80,576.20 Q250.80,574.40 250.80,574.40 Q250.80,574.40 254.65,571.70 Q258.50,569.00 258.95,569.50Z"/></clipPath>
<g clip-path="url(#tc6)">
<rect x="254.8" y="533.3" width="99.1" height="73.3" fill="#f8f8fa"/>
<path d="M256,546 Q262,543 266,548 M262,555 L270,550 M270,540 L278,537" stroke="#d8c8e4" stroke-width="2" fill="none" opacity="0.7"/>
<path d="M258.95,569.50 Q259.40,570.00 260.30,567.65 Q261.20,565.30 263.00,563.95 Q264.80,562.60 266.60,561.25 Q268.40,559.90 269.30,557.20 Q270.20,554.50 272.00,551.80 Q273.80,549.10 276.05,546.85 Q278.30,544.60 280.55,542.35 Q282.80,540.10 285.05,538.30 Q287.30,536.50 289.55,532.90 Q291.80,529.30 291.80,529.30 Q291.80,529.30 294.50,529.30 Q297.20,529.30 297.20,529.30 Q297.20,529.30 327.55,529.30 Q357.90,529.30 357.90,529.30 Q357.90,529.30 357.90,552.75 Q357.90,576.20 357.90,576.20 Q357.90,576.20 354.35,576.65 Q350.80,577.10 349.00,578.45 Q347.20,579.80 345.40,581.60 Q343.60,583.40 340.90,585.20 Q338.20,587.00 335.95,589.25 Q333.70,591.50 330.10,594.65 Q326.50,597.80 322.00,600.95 Q317.50,604.10 314.35,607.35 Q311.20,610.60 311.20,610.60 Q311.20,610.60 281.00,610.60 Q250.80,610.60 250.80,610.60 Q250.80,610.60 250.80,594.30 Q250.80,578.00 250.80,578.00 Q250.80,578.00 250.80,576.20 Q250.80,574.40 250.80,574.40 Q250.80,574.40 254.65,571.70 Q258.50,569.00 258.95,569.50Z" fill="#745abb" filter="url(#bl0)"/>
<g clip-path="url(#tp6)">
<rect x="254.8" y="533.3" width="99.1" height="73.3" filter="url(#spk)" opacity="0.55"/>
<g filter="url(#bl1)">
<path d="M278.95,572.95 Q280.70,567.60 287.85,564.95 Q295.00,562.30 301.20,556.95 Q307.40,551.60 314.55,548.95 Q321.70,546.30 326.15,548.05 Q330.60,549.80 329.70,556.05 Q328.80,562.30 327.05,566.75 Q325.30,571.20 327.05,577.45 Q328.80,583.70 325.25,586.35 Q321.70,589.00 314.55,588.10 Q307.40,587.20 304.75,589.90 Q302.10,592.60 299.40,597.95 Q296.70,603.30 287.80,605.05 Q278.90,606.80 274.45,603.25 Q270.00,599.70 271.80,594.35 Q273.60,589.00 275.40,583.65 Q277.20,578.30 278.95,572.95Z" fill="#d0c2f0" opacity="0.95"/>
<path d="M302.50,545.00 Q300.00,540.00 310.00,538.50 Q320.00,537.00 327.50,541.00 Q335.00,545.00 330.00,548.50 Q325.00,552.00 315.00,551.00 Q305.00,550.00 302.50,545.00Z" fill="#a892d0" opacity="0.5"/>
</g>
<rect x="254.8" y="533.3" width="99.1" height="73.3" filter="url(#spk)" opacity="0.22"/>
<rect x="254.8" y="533.3" width="99.1" height="73.3" filter="url(#spl)" opacity="0.45"/>
<path d="M268.20,564.10 C270.28,564.68 276.23,567.75 280.70,567.60 C285.17,567.45 292.03,565.27 295.00,563.20 C297.97,561.13 298.22,558.02 298.50,555.20 C298.78,552.38 297.00,549.57 296.70,546.30 C296.40,543.03 296.70,537.38 296.70,535.60" fill="none" stroke="#f3f0f8" stroke-width="1.35" stroke-linecap="round" opacity="0.92"/>
<path d="M255.80,590.80 C257.28,590.50 262.03,589.90 264.70,589.00 C267.37,588.10 270.62,586.00 271.80,585.40" fill="none" stroke="#f3f0f8" stroke-width="1.35" stroke-linecap="round" opacity="0.92"/>
<path d="M305.70,589.00 C305.40,590.78 303.90,596.73 303.90,599.70 C303.90,602.67 305.40,605.62 305.70,606.80" fill="none" stroke="#f3f0f8" stroke-width="1.35" stroke-linecap="round" opacity="0.92"/>
<path d="M327.00,565.80 L338.20,565.30" fill="none" stroke="#f3f0f8" stroke-width="1.35" stroke-linecap="round" opacity="0.92"/>
<path d="M338.20,565.30 C339.60,563.92 344.15,559.58 346.60,557.00 C349.05,554.42 351.85,551.00 352.90,549.80" fill="none" stroke="#f3f0f8" stroke-width="1.35" stroke-linecap="round" opacity="0.92"/>
<path d="M338.20,565.30 C338.80,566.08 340.60,568.48 341.80,570.00 C343.00,571.52 344.37,573.07 345.40,574.40 C346.43,575.73 347.57,577.40 348.00,578.00" fill="none" stroke="#f6f4fa" stroke-width="2.4" stroke-linecap="round"/>
</g>
<line x1="337.7" y1="604.3" x2="351.7" y2="604.3" stroke="#1c1c1c" stroke-width="1.7"/>
</g>
<clipPath id="tc7"><rect x="358.9" y="533.3" width="100" height="73.3"/></clipPath>
<clipPath id="tp7"><path d="M365.20,573.10 Q366.10,570.00 367.90,566.30 Q369.70,562.60 371.95,559.90 Q374.20,557.20 376.90,554.50 Q379.60,551.80 382.30,549.55 Q385.00,547.30 387.70,545.50 Q390.40,543.70 393.55,541.90 Q396.70,540.10 399.85,538.30 Q403.00,536.50 406.00,532.90 Q409.00,529.30 409.00,529.30 Q409.00,529.30 435.95,529.30 Q462.90,529.30 462.90,529.30 Q462.90,529.30 462.90,547.65 Q462.90,566.00 462.90,566.00 Q462.90,566.00 457.95,567.50 Q453.00,569.00 450.75,570.35 Q448.50,571.70 446.25,573.05 Q444.00,574.40 440.85,576.20 Q437.70,578.00 434.55,579.80 Q431.40,581.60 428.70,582.95 Q426.00,584.30 422.85,585.65 Q419.70,587.00 419.25,588.35 Q418.80,589.70 416.10,592.40 Q413.40,595.10 410.70,596.45 Q408.00,597.80 405.50,599.90 Q403.00,602.00 401.00,606.30 Q399.00,610.60 399.00,610.60 Q399.00,610.60 385.25,610.60 Q371.50,610.60 371.50,610.60 Q371.50,610.60 370.15,606.00 Q368.80,601.40 367.45,597.80 Q366.10,594.20 365.20,589.70 Q364.30,585.20 364.30,580.70 Q364.30,576.20 365.20,573.10Z"/></clipPath>
<g clip-path="url(#tc7)">
<rect x="358.9" y="533.3" width="100" height="73.3" fill="#ededef"/>
<path d="M423,609 L461,575 L461,580 L427,609Z" fill="#c9a0d6" opacity="0.9"/>
<path d="M365.20,573.10 Q366.10,570.00 367.90,566.30 Q369.70,562.60 371.95,559.90 Q374.20,557.20 376.90,554.50 Q379.60,551.80 382.30,549.55 Q385.00,547.30 387.70,545.50 Q390.40,543.70 393.55,541.90 Q396.70,540.10 399.85,538.30 Q403.00,536.50 406.00,532.90 Q409.00,529.30 409.00,529.30 Q409.00,529.30 435.95,529.30 Q462.90,529.30 462.90,529.30 Q462.90,529.30 462.90,547.65 Q462.90,566.00 462.90,566.00 Q462.90,566.00 457.95,567.50 Q453.00,569.00 450.75,570.35 Q448.50,571.70 446.25,573.05 Q444.00,574.40 440.85,576.20 Q437.70,578.00 434.55,579.80 Q431.40,581.60 428.70,582.95 Q426.00,584.30 422.85,585.65 Q419.70,587.00 419.25,588.35 Q418.80,589.70 416.10,592.40 Q413.40,595.10 410.70,596.45 Q408.00,597.80 405.50,599.90 Q403.00,602.00 401.00,606.30 Q399.00,610.60 399.00,610.60 Q399.00,610.60 385.25,610.60 Q371.50,610.60 371.50,610.60 Q371.50,610.60 370.15,606.00 Q368.80,601.40 367.45,597.80 Q366.10,594.20 365.20,589.70 Q364.30,585.20 364.30,580.70 Q364.30,576.20 365.20,573.10Z" fill="#684eaf" filter="url(#bl0)"/>
<g clip-path="url(#tp7)">
<rect x="358.9" y="533.3" width="100" height="73.3" filter="url(#spk)" opacity="0.55"/>
<g filter="url(#bl1)">
<path d="M389.15,559.60 Q393.60,551.60 402.50,548.05 Q411.40,544.50 420.35,543.60 Q429.30,542.70 435.50,545.35 Q441.70,548.00 439.05,553.35 Q436.40,558.70 431.05,563.15 Q425.70,567.60 420.35,571.15 Q415.00,574.70 409.65,577.40 Q404.30,580.10 398.95,582.75 Q393.60,585.40 389.15,587.20 Q384.70,589.00 382.95,585.45 Q381.20,581.90 382.95,574.75 Q384.70,567.60 389.15,559.60Z" fill="#c3abef" opacity="0.7"/>
</g>
<rect x="358.9" y="533.3" width="100" height="73.3" filter="url(#spk)" opacity="0.22"/>
<rect x="358.9" y="533.3" width="100" height="73.3" filter="url(#spl)" opacity="0.45"/>
<path d="M413.40,533.80 L415.20,545.50" fill="none" stroke="#f3f0f8" stroke-width="1.35" stroke-linecap="round" opacity="0.92"/>
<path d="M442.20,534.70 L439.50,544.60" fill="none" stroke="#f3f0f8" stroke-width="1.35" stroke-linecap="round" opacity="0.92"/>
<path d="M429.60,570.00 C430.20,568.62 431.55,563.53 433.20,561.70 C434.85,559.87 437.40,559.30 439.50,559.00 C441.60,558.70 444.15,558.40 445.80,559.90 C447.45,561.40 448.80,566.65 449.40,568.00" fill="none" stroke="#f6f4fa" stroke-width="2.4" stroke-linecap="round"/>
<path d="M402.00,572.60 C401.42,574.25 399.38,578.90 398.50,582.50 C397.62,586.10 397.90,591.20 396.70,594.20 C395.50,597.20 392.95,598.37 391.30,600.50 C389.65,602.63 387.55,605.92 386.80,607.00" fill="none" stroke="#f6f4fa" stroke-width="2.4" stroke-linecap="round"/>
<path d="M396.70,594.20 C397.75,594.65 400.95,595.85 403.00,596.90 C405.05,597.95 408.00,599.90 409.00,600.50" fill="none" stroke="#f6f4fa" stroke-width="2.4" stroke-linecap="round"/>
</g>
<line x1="442.2" y1="604.3" x2="457" y2="604.3" stroke="#1c1c1c" stroke-width="1.7"/>
</g>
<clipPath id="tc8"><rect x="463.9" y="533.3" width="98.1" height="73.3"/></clipPath>
<clipPath id="tp8"><path d="M466.60,574.00 Q466.80,570.00 467.50,566.75 Q468.20,563.50 469.10,561.25 Q470.00,559.00 471.80,556.30 Q473.60,553.60 475.85,550.45 Q478.10,547.30 480.35,544.60 Q482.60,541.90 485.30,539.65 Q488.00,537.40 490.70,536.05 Q493.40,534.70 495.70,532.00 Q498.00,529.30 498.00,529.30 Q498.00,529.30 532.00,529.30 Q566.00,529.30 566.00,529.30 Q566.00,529.30 566.00,562.00 Q566.00,594.70 566.00,594.70 Q566.00,594.70 562.80,595.15 Q559.60,595.60 556.85,597.00 Q554.10,598.40 550.90,599.75 Q547.70,601.10 543.10,602.95 Q538.50,604.80 533.90,607.70 Q529.30,610.60 529.30,610.60 Q529.30,610.60 505.95,610.60 Q482.60,610.60 482.60,610.60 Q482.60,610.60 480.80,607.35 Q479.00,604.10 476.75,602.30 Q474.50,600.50 472.25,597.35 Q470.00,594.20 468.65,590.60 Q467.30,587.00 466.85,582.50 Q466.40,578.00 466.60,574.00Z"/></clipPath>
<g clip-path="url(#tc8)">
<rect x="463.9" y="533.3" width="98.1" height="73.3" fill="#f5f3ed"/>
<path d="M466.60,574.00 Q466.80,570.00 467.50,566.75 Q468.20,563.50 469.10,561.25 Q470.00,559.00 471.80,556.30 Q473.60,553.60 475.85,550.45 Q478.10,547.30 480.35,544.60 Q482.60,541.90 485.30,539.65 Q488.00,537.40 490.70,536.05 Q493.40,534.70 495.70,532.00 Q498.00,529.30 498.00,529.30 Q498.00,529.30 532.00,529.30 Q566.00,529.30 566.00,529.30 Q566.00,529.30 566.00,562.00 Q566.00,594.70 566.00,594.70 Q566.00,594.70 562.80,595.15 Q559.60,595.60 556.85,597.00 Q554.10,598.40 550.90,599.75 Q547.70,601.10 543.10,602.95 Q538.50,604.80 533.90,607.70 Q529.30,610.60 529.30,610.60 Q529.30,610.60 505.95,610.60 Q482.60,610.60 482.60,610.60 Q482.60,610.60 480.80,607.35 Q479.00,604.10 476.75,602.30 Q474.50,600.50 472.25,597.35 Q470.00,594.20 468.65,590.60 Q467.30,587.00 466.85,582.50 Q466.40,578.00 466.60,574.00Z" fill="#7e5ebf" filter="url(#bl0)"/>
<g clip-path="url(#tp8)">
<rect x="463.9" y="533.3" width="98.1" height="73.3" filter="url(#spk)" opacity="0.55"/>
<g filter="url(#bl1)">
<path d="M528.50,541.50 Q529.00,536.00 537.00,534.50 Q545.00,533.00 552.50,535.50 Q560.00,538.00 560.50,545.00 Q561.00,552.00 556.50,555.50 Q552.00,559.00 544.00,558.00 Q536.00,557.00 532.00,552.00 Q528.00,547.00 528.50,541.50Z" fill="#c468c4" opacity="0.9"/>
<path d="M484.50,555.00 Q485.00,551.00 490.00,549.50 Q495.00,548.00 498.50,551.50 Q502.00,555.00 500.50,560.50 Q499.00,566.00 493.50,566.50 Q488.00,567.00 486.00,563.00 Q484.00,559.00 484.50,555.00Z" fill="#b86ac4" opacity="0.8"/>
</g>
<rect x="463.9" y="533.3" width="98.1" height="73.3" filter="url(#spk)" opacity="0.22"/>
<rect x="463.9" y="533.3" width="98.1" height="73.3" filter="url(#spl)" opacity="0.45"/>
<path d="M511.00,536.60 C511.77,537.37 514.07,539.37 515.60,541.20 C517.13,543.03 518.67,545.92 520.20,547.60 C521.73,549.28 523.73,550.38 524.80,551.30 C525.87,552.22 525.85,551.73 526.60,553.10 C527.35,554.47 528.85,557.20 529.30,559.50 C529.75,561.80 529.30,565.67 529.30,566.90" fill="none" stroke="#f3f0f8" stroke-width="1.35" stroke-linecap="round" opacity="0.45"/>
<path d="M468.20,584.30 C469.25,584.37 472.70,584.70 474.50,584.70 C476.30,584.70 477.50,584.82 479.00,584.30 C480.50,583.78 482.00,582.35 483.50,581.60 C485.00,580.85 487.25,580.10 488.00,579.80" fill="none" stroke="#f3f0f8" stroke-width="1.35" stroke-linecap="round" opacity="0.45"/>
<path d="M495.20,580.70 C495.50,581.45 496.10,583.40 497.00,585.20 C497.90,587.00 499.40,589.70 500.60,591.50 C501.80,593.30 503.00,594.50 504.20,596.00 C505.40,597.50 507.20,599.75 507.80,600.50" fill="none" stroke="#f3f0f8" stroke-width="1.35" stroke-linecap="round" opacity="0.45"/>
<path d="M538.50,576.30 C538.65,577.38 539.08,580.20 539.40,582.80 C539.72,585.40 539.93,588.85 540.40,591.90 C540.87,594.95 541.90,599.57 542.20,601.10" fill="none" stroke="#f3f0f8" stroke-width="1.35" stroke-linecap="round" opacity="0.45"/>
<path d="M520.20,582.80 C520.97,583.87 523.28,586.92 524.80,589.20 C526.32,591.48 528.55,595.28 529.30,596.50" fill="none" stroke="#f3f0f8" stroke-width="1.35" stroke-linecap="round" opacity="0.45"/>
</g>
<line x1="546.3" y1="604.3" x2="561" y2="604.3" stroke="#1c1c1c" stroke-width="1.7"/>
</g>
</svg>
</body></html>
